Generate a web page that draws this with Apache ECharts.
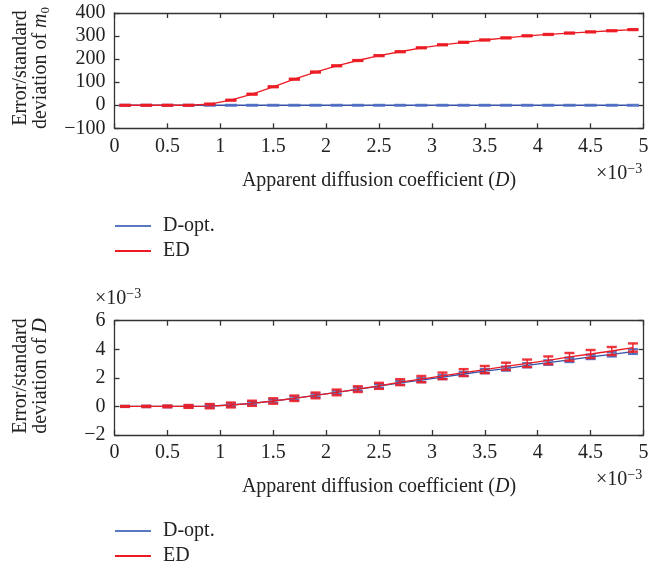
<!DOCTYPE html>
<html><head><meta charset="utf-8">
<script src="https://cdn.jsdelivr.net/npm/echarts@6/dist/echarts.min.js"></script>
<style>html,body{margin:0;padding:0;background:#fff}#c{width:671px;height:571px}</style>
</head><body><div id="c"></div>
<script>
const xs = [0.1,0.3,0.5,0.7,0.9,1.1,1.3,1.5,1.7,1.9,2.1,2.3,2.5,2.7,2.9,3.1,3.3,3.5,3.7,3.9,4.1,4.3,4.5,4.7,4.9];
const xTicks = [0,0.5,1,1.5,2,2.5,3,3.5,4,4.5,5];
// top panel: error/std of m0
const m0Dopt = [0,0,0,0,0,0,0,0,0,0,0,0,0,0,0,0,0,0,0,0,0,0,0,0,0];
const m0DoptErr = [0,0,0,0,0,0,0,0,0,0,0,0,0,0,0,0,0,0,0,0,0,0,0,0,0];
const m0ED = [0,0,0,0,5,22,48,80,113,144,171,194,215,232,249,262,273,283,292,301,307,313,318,323,328];
const m0EDErr = [0.5,0.5,0.5,0.5,1,1,1,1,1,1,1,1,1,1,1,1,1,1,1,1,1,1,1,1,1];
// bottom panel: error/std of D (x1e-3)
const dDopt = [0,0,0,0,0.02,0.1,0.22,0.38,0.57,0.77,0.98,1.2,1.43,1.65,1.84,2.05,2.27,2.47,2.65,2.88,3.07,3.26,3.47,3.65,3.84];
const dDoptErr = [0.03,0.04,0.05,0.07,0.1,0.11,0.11,0.12,0.12,0.12,0.12,0.12,0.13,0.13,0.13,0.13,0.14,0.14,0.14,0.14,0.15,0.15,0.15,0.15,0.16];
const dED = [0,0,0,0,0.02,0.1,0.22,0.38,0.57,0.77,0.98,1.21,1.44,1.7,1.91,2.14,2.37,2.58,2.81,3.02,3.23,3.47,3.67,3.88,4.12];
const dEDErr = [0.03,0.04,0.06,0.1,0.15,0.17,0.18,0.19,0.19,0.2,0.2,0.2,0.21,0.21,0.22,0.23,0.24,0.25,0.25,0.26,0.27,0.27,0.28,0.28,0.29];

const FONT = '"Liberation Serif", "DejaVu Serif", serif';
const FS = 20;
const TXT = '#222';
const BLUE = '#3452a8', RED = '#ec1c24';

function triples(a, c) { return xs.map((x, i) => [x, a[i], c[i]]); }
function pairs(a) { return xs.map((x, i) => [x, a[i]]); }

function errRender(color, capColor, capW, capLW) {
  return function (params, api) {
    const x = api.value(0), y = api.value(1), e = api.value(2);
    const t = api.coord([x, y + e]), b = api.coord([x, y - e]);
    const h = capW / 2;
    return { type: 'group', children: [
      { type: 'line', shape: { x1: t[0], y1: t[1], x2: b[0], y2: b[1] }, style: { stroke: color, lineWidth: 1.4 } },
      { type: 'line', shape: { x1: t[0] - h, y1: t[1], x2: t[0] + h, y2: t[1] }, style: { stroke: capColor, lineWidth: capLW } },
      { type: 'line', shape: { x1: b[0] - h, y1: b[1], x2: b[0] + h, y2: b[1] }, style: { stroke: capColor, lineWidth: capLW } }
    ]};
  };
}

function axisLine() { return { show: true, onZero: false, lineStyle: { color: '#333', width: 1.3 } }; }
function tick() { return { show: true, inside: true, length: 5, lineStyle: { color: '#333', width: 1.3 } }; }
function lbl(extra) { return Object.assign({ color: TXT, fontFamily: FONT, fontSize: FS }, extra); }
const minus = v => String(v).replace('-', '\u2212');

function xAx(grid, pos) {
  const a = { type: 'value', gridIndex: grid, min: 0, max: 5, interval: 0.5, position: pos,
    axisLine: axisLine(), axisTick: tick(), splitLine: { show: false },
    axisLabel: pos === 'bottom' ? lbl({ margin: 8, formatter: v => String(v) }) : { show: false } };
  if (pos === 'bottom') {
    a.name = 'Apparent diffusion coefficient ({i|D})';
    a.nameLocation = 'middle';
    a.nameGap = 42;
    a.nameTextStyle = { color: TXT, fontFamily: FONT, fontSize: FS, rich: { i: { fontStyle: 'italic', fontFamily: FONT, fontSize: FS, color: TXT } } };
  }
  return a;
}
function yAx(grid, pos, min, max, interval) {
  return { type: 'value', gridIndex: grid, min, max, interval, position: pos,
    axisLine: axisLine(), axisTick: tick(), splitLine: { show: false },
    axisLabel: pos === 'left' ? lbl({ margin: 9, formatter: minus }) : { show: false } };
}
function legend(top) {
  return { orient: 'vertical', left: 115, top, padding: 0, itemWidth: 36, itemHeight: 2, icon: 'rect', itemGap: 5,
    textStyle: { color: TXT, fontFamily: FONT, fontSize: FS, padding: [0, 0, 0, 7] }, data: ['D-opt.', 'ED'] };
}
function errSeries(xi, yi, vals, errs, color, capColor, w, lw) {
  return { type: 'custom', name: 'err' + xi + color, coordinateSystem: 'cartesian2d', xAxisIndex: xi, yAxisIndex: yi,
    dimensions: ['x', 'y', 'e'], encode: { x: 0, y: 1 }, data: triples(vals, errs),
    renderItem: errRender(color, capColor, w, lw), z: 4, silent: true };
}

const chart = echarts.init(document.getElementById('c'));
chart.setOption({
  animation: false,
  grid: [
    { left: 114.5, top: 13, width: 529, height: 115.3 },
    { left: 114.5, top: 320.7, width: 529, height: 114.3 }
  ],
  legend: [legend(216), legend(521)],
  xAxis: [xAx(0, 'bottom'), xAx(0, 'top'), xAx(1, 'bottom'), xAx(1, 'top')],
  yAxis: [yAx(0, 'left', -100, 400, 100), yAx(0, 'right', -100, 400, 100), yAx(1, 'left', -2, 6, 2), yAx(1, 'right', -2, 6, 2)],
  series: [
    { name: 'D-opt.', type: 'line', xAxisIndex: 0, yAxisIndex: 0, data: pairs(m0Dopt), symbol: 'none', lineStyle: { color: BLUE, width: 1.3 }, itemStyle: { color: '#5a78c2' }, z: 3 },
    errSeries(0, 0, m0Dopt, m0DoptErr, 'rgba(70,100,190,0.7)', 'rgba(80,110,195,0.7)', 12, 2.8),
    { name: 'ED', type: 'line', xAxisIndex: 0, yAxisIndex: 0, data: pairs(m0ED), symbol: 'none', lineStyle: { color: RED, width: 1.3 }, itemStyle: { color: RED }, z: 5 },
    errSeries(0, 0, m0ED, m0EDErr, 'rgba(236,28,36,0.9)', 'rgba(236,28,36,0.9)', 11, 2.8),

    { name: 'D-opt.', type: 'line', xAxisIndex: 2, yAxisIndex: 2, data: pairs(dDopt), symbol: 'none', lineStyle: { color: BLUE, width: 1.3 }, itemStyle: { color: '#2a3f8f' }, z: 3 },
    errSeries(2, 2, dDopt, dDoptErr, '#2f4a9e', 'rgba(60,90,180,0.85)', 10, 2.4),
    { name: 'ED', type: 'line', xAxisIndex: 2, yAxisIndex: 2, data: pairs(dED), symbol: 'none', lineStyle: { color: RED, width: 1.3 }, itemStyle: { color: RED }, z: 5 },
    errSeries(2, 2, dED, dEDErr, '#e8202a', 'rgba(236,32,40,0.9)', 10, 2.4)
  ],
  graphic: [
    { type: 'text', x: 21, y: 68, rotation: Math.PI / 2, style: { text: 'Error/standard', fontFamily: FONT, fontSize: FS, fill: TXT, align: 'center', verticalAlign: 'middle' } },
    { type: 'text', x: 41, y: 68, rotation: Math.PI / 2, style: { text: 'deviation of {i|m}{s|0}', fontFamily: FONT, fontSize: FS, fill: TXT, align: 'center', verticalAlign: 'middle',
      rich: { i: { fontStyle: 'italic', fontFamily: FONT, fontSize: FS, fill: TXT }, s: { fontFamily: FONT, fontSize: 13, fill: TXT, padding: [9, 0, 0, 0] } } } },
    { type: 'text', x: 21, y: 376, rotation: Math.PI / 2, style: { text: 'Error/standard', fontFamily: FONT, fontSize: FS, fill: TXT, align: 'center', verticalAlign: 'middle' } },
    { type: 'text', x: 41, y: 376, rotation: Math.PI / 2, style: { text: 'deviation of {i|D}', fontFamily: FONT, fontSize: FS, fill: TXT, align: 'center', verticalAlign: 'middle',
      rich: { i: { fontStyle: 'italic', fontFamily: FONT, fontSize: FS, fill: TXT } } } },
    { type: 'text', x: 596, y: 162, style: { text: '\u00d710{s|\u22123}', fontFamily: FONT, fontSize: FS, fill: TXT,
      rich: { s: { fontFamily: FONT, fontSize: 14, fill: TXT, padding: [0, 0, 10, 0] } } } },
    { type: 'text', x: 596, y: 468, style: { text: '\u00d710{s|\u22123}', fontFamily: FONT, fontSize: FS, fill: TXT,
      rich: { s: { fontFamily: FONT, fontSize: 14, fill: TXT, padding: [0, 0, 10, 0] } } } },
    { type: 'text', x: 95, y: 287, style: { text: '\u00d710{s|\u22123}', fontFamily: FONT, fontSize: FS, fill: TXT,
      rich: { s: { fontFamily: FONT, fontSize: 14, fill: TXT, padding: [0, 0, 10, 0] } } } }
  ]
});
</script></body></html>
